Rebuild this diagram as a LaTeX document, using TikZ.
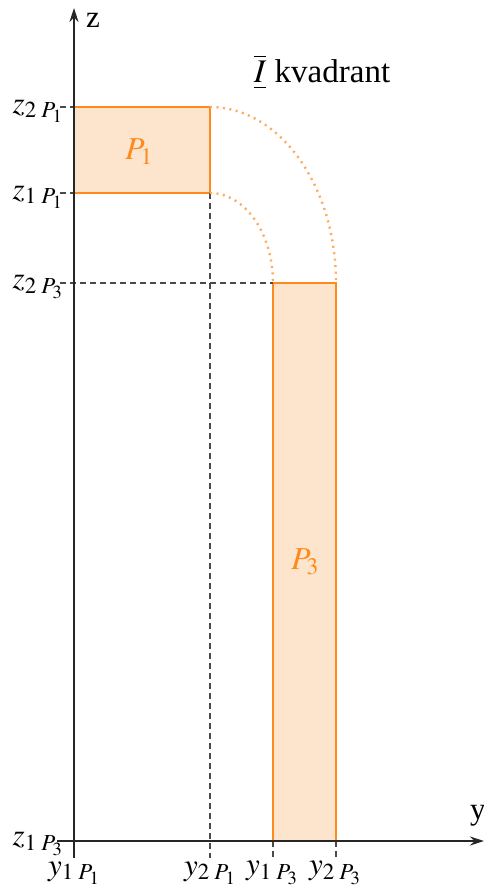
\documentclass[tikz,border=0pt]{standalone}
\usepackage{mathptmx}
\usepackage{fontspec}
\setmainfont{Liberation Serif}
\usetikzlibrary{arrows.meta}
\definecolor{orline}{HTML}{FF8A1C}
\definecolor{orfill}{HTML}{FDE5CD}
\definecolor{ordot}{HTML}{FFAA60}
\definecolor{dashgray}{HTML}{4A4A4A}
\tikzset{
  axisline/.style={line width=1.8pt, black!85, -{Stealth[length=14pt,width=9pt]}},
  region/.style={draw=orline, fill=orfill, line width=1.7pt},
  guide/.style={dashgray, line width=1.6pt, dash pattern=on 6pt off 4pt},
  arcline/.style={ordot, line width=2.4pt, dash pattern=on 2pt off 4.5pt},
  lbl/.style={font=\fontsize{31}{34}\selectfont, inner sep=0pt},
  plbl/.style={font=\fontsize{32}{36}\selectfont, text=orline, inner sep=0pt},
}
\begin{document}
\begin{tikzpicture}[x=1pt,y=1pt]
\useasboundingbox (0,0) rectangle (483,-886);
% key coordinates (x, -y in pixels)
\coordinate (zbot) at (74,-858);
\coordinate (ztop) at (74,-8);
\coordinate (yleft) at (57,-841);
\coordinate (yright) at (484,-841);
\coordinate (A1) at (74,-107);
\coordinate (B1) at (210,-193);
\coordinate (A3) at (273,-283);
\coordinate (B3) at (336,-841);
\coordinate (t2P1) at (60,-107);
\coordinate (t1P1) at (60,-193);
\coordinate (e1P1) at (74,-193);
\coordinate (t2P3) at (60,-283);
\coordinate (c21) at (210,-107);
\coordinate (v2P1) at (210,-858);
\coordinate (v1P3) at (273,-858);
\coordinate (v2P3) at (336,-858);
\coordinate (b1P3) at (273,-841);
\coordinate (b2P3) at (336,-841);
% regions
\draw[region] (A1) rectangle (B1);
\draw[region] (A3) rectangle (B3);
% guide lines
\draw[guide] (t2P1) -- (A1);
\draw[guide] (t1P1) -- (e1P1);
\draw[guide] (t2P3) -- (A3);
\draw[guide] (B1) -- (v2P1);
\draw[guide] (b1P3) -- (v1P3);
\draw[guide] (b2P3) -- (v2P3);
% arcs
\draw[arcline] (c21) arc[start angle=90, end angle=0, x radius=126, y radius=176];
\draw[arcline] (B1) arc[start angle=90, end angle=0, x radius=63, y radius=90];
% axes
\draw[axisline] (zbot) -- (ztop);
\draw[axisline] (yleft) -- (yright);
% axis names
\node[lbl, anchor=west] (zname) at (86,-20) {z};
\node[lbl, anchor=west] (yname) at (470,-816) {y};
% title
\node[font=\fontsize{33}{36}\selectfont, inner sep=0pt] (title) at (322,-72) {$\overline{\underline{I}}$ kvadrant};
% region labels
\node[plbl] (p1) at (139,-152) {$P_1$};
\node[plbl] (p3) at (305,-562) {$P_3$};
% z labels
\node[lbl, anchor=east] (lz2p1) at (63,-111) {$z_{2\;P_1}$};
\node[lbl, anchor=east] (lz1p1) at (63,-197) {$z_{1\;P_1}$};
\node[lbl, anchor=east] (lz2p3) at (63,-287) {$z_{2\;P_3}$};
\node[lbl, anchor=east] (lz1p3) at (63,-844) {$z_{1\;P_3}$};
% y labels
\node[lbl] (ly1p1) at (74,-873) {$y_{1\;P_1}$};
\node[lbl] (ly2p1) at (210,-873) {$y_{2\;P_1}$};
\node[lbl] (ly1p3) at (272,-873) {$y_{1\;P_3}$};
\node[lbl] (ly2p3) at (335,-873) {$y_{2\;P_3}$};
\end{tikzpicture}
\end{document}
